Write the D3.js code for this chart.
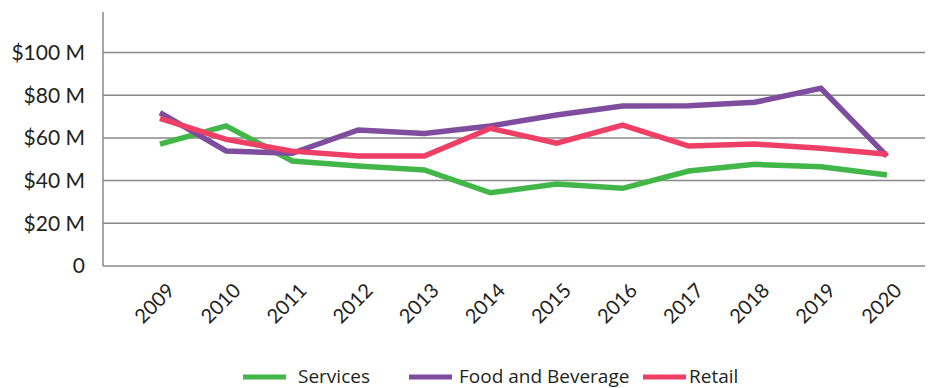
<!DOCTYPE html>
<html>
<head>
<meta charset="utf-8">
<script src="https://cdn.jsdelivr.net/npm/d3@7"></script>
<style>
  body { margin: 0; background: #fff; }
  .axis-label { font-family: Lato, "Open Sans", sans-serif; fill: #231f20; }
  .legend-text { font-family: "Open Sans", sans-serif; fill: #231f20; }
</style>
</head>
<body>
<div id="chart"></div>
<script>
var years = ["2009","2010","2011","2012","2013","2014","2015","2016","2017","2018","2019","2020"];
var services = [57.1, 65.6, 49.2, 46.8, 45.0, 34.3, 38.4, 36.4, 44.5, 47.6, 46.5, 42.6];
var foodBev = [71.8, 53.9, 52.8, 63.7, 62.1, 65.6, 70.7, 74.9, 75.1, 76.7, 83.2, 51.5];
var retail = [69.2, 59.3, 53.8, 51.5, 51.5, 64.5, 57.5, 66.0, 56.2, 57.1, 55.1, 52.3];
var yTicks = [0, 20, 40, 60, 80, 100];
var seriesNames = ["Services", "Food and Beverage", "Retail"];
var seriesColors = ["#43b649", "#7e4d9e", "#ee4067"];

drawChart();

function drawChart() {
	var svg = d3.select("#chart")
		.append("svg")
		.attr("width", 928)
		.attr("height", 388);

	var series = [services, foodBev, retail];

	// setup x
	var xScale = d3.scalePoint()
		.domain(years)
		.range([160, 887]);

	// setup y
	var yScale = d3.scaleLinear()
		.domain([0, 100])
		.range([266, 52.5]);

	// gridlines
	svg.selectAll(".grid")
		.data(yTicks)
		.enter().append("line")
		.attr("class", "grid")
		.attr("x1", 103)
		.attr("x2", 925)
		.attr("y1", function(d) { return yScale(d); })
		.attr("y2", function(d) { return yScale(d); })
		.style("stroke", "#888")
		.style("stroke-width", 1.5);

	// y axis line
	svg.append("line")
		.attr("x1", 103).attr("x2", 103)
		.attr("y1", 12).attr("y2", yScale(0))
		.style("stroke", "#888")
		.style("stroke-width", 1.5);

	// y tick labels
	svg.selectAll(".ylab")
		.data(yTicks)
		.enter().append("text")
		.attr("class", "axis-label")
		.attr("x", 85)
		.attr("y", function(d) { return yScale(d); })
		.attr("dy", "0.35em")
		.style("text-anchor", "end")
		.style("font-size", "21px")
		.text(function(d) { return d === 0 ? "0" : "$" + d + " M"; });

	// x tick labels
	svg.selectAll(".xlab")
		.data(years)
		.enter().append("text")
		.attr("class", "axis-label")
		.attr("transform", function(d) {
			return "translate(" + (xScale(d) + 6) + "," + 282 + ") rotate(-45)";
		})
		.attr("dy", "0.7em")
		.style("text-anchor", "end")
		.style("font-size", "20px")
		.text(function(d) { return d; });

	// lines
	var line = d3.line()
		.x(function(d, i) { return xScale(years[i]); })
		.y(function(d) { return yScale(d); });

	svg.selectAll(".series")
		.data(series)
		.enter().append("path")
		.attr("class", "series")
		.attr("d", line)
		.style("fill", "none")
		.style("stroke", function(d, i) { return seriesColors[i]; })
		.style("stroke-width", 5.5)
		.style("stroke-linejoin", "miter");

	// legend
	var legX = [243, 409, 643];
	var legend = svg.selectAll(".legend")
		.data(seriesNames)
		.enter().append("g")
		.attr("class", "legend")
		.attr("transform", function(d, i) { return "translate(" + legX[i] + ",377)"; });

	legend.append("line")
		.attr("x1", 0).attr("x2", 43)
		.attr("y1", 0).attr("y2", 0)
		.style("stroke", function(d, i) { return seriesColors[i]; })
		.style("stroke-width", 5);

	legend.append("text")
		.attr("class", "legend-text")
		.attr("x", function(d, i) { return i === 2 ? 46 : i === 1 ? 50 : 55; })
		.attr("y", 6)
		.style("font-size", "19px")
		.text(function(d) { return d; });
}
</script>
</body>
</html>
